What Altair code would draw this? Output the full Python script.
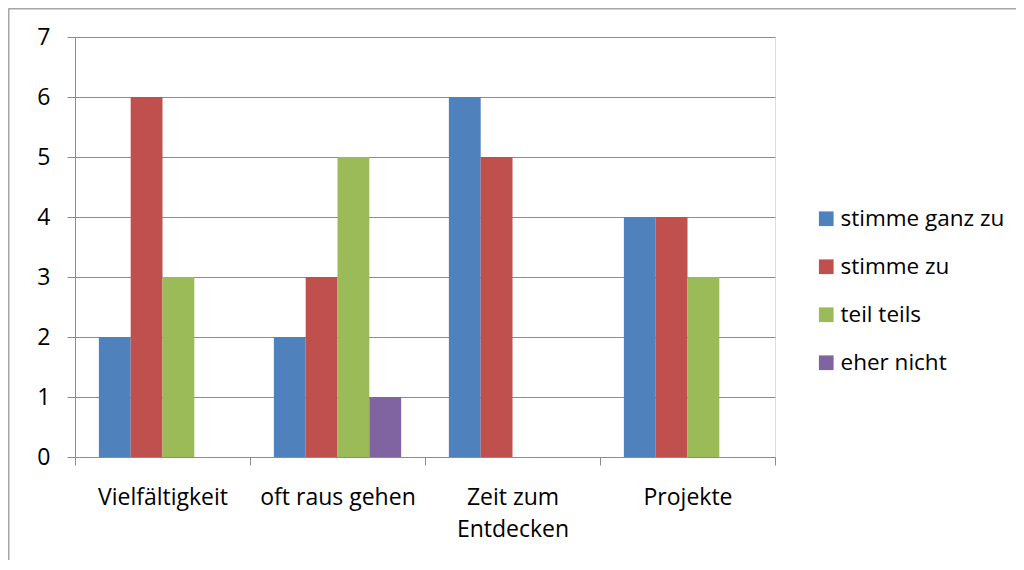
import altair as alt
import pandas as pd

categories = ["Vielfältigkeit", "oft raus gehen", "Zeit zum Entdecken", "Projekte"]
series = ["stimme ganz zu", "stimme zu", "teil teils", "eher nicht"]
stimme_ganz_zu = [2, 2, 6, 4]
stimme_zu = [6, 3, 5, 4]
teil_teils = [3, 5, 0, 3]
eher_nicht = [0, 1, 0, 0]
colors = ["#4F81BD", "#C0504D", "#9BBB59", "#8064A2"]

rows = []
for name, vals in zip(series, [stimme_ganz_zu, stimme_zu, teil_teils, eher_nicht]):
    for c, v in zip(categories, vals):
        rows.append({"Kategorie": c, "Serie": name, "Wert": v})
df = pd.DataFrame(rows)

FONT = "Open Sans"
GRID = "#8c8c8c"

bars = alt.Chart(df).transform_filter("datum.Wert > 0").mark_bar().encode(
    x=alt.X("Kategorie:N", sort=categories,
            scale=alt.Scale(domain=categories, paddingInner=0, paddingOuter=0),
            axis=alt.Axis(title=None, labelAngle=0, tickBand="extent", tickSize=8,
                          tickColor=GRID, domainColor=GRID, labelFontSize=23,
                          labelFont=FONT, labelColor="#000000", labelPadding=21,
                          labelLineHeight=32, labelBaseline="top", labelLimit=0,
                          labelExpr="datum.label == 'Zeit zum Entdecken' ? ['Zeit zum', 'Entdecken'] : datum.label")),
    xOffset=alt.XOffset("Serie:N", sort=series,
                        scale=alt.Scale(domain=series, paddingInner=0, paddingOuter=0.75)),
    y=alt.Y("Wert:Q",
            scale=alt.Scale(domain=[0, 7], nice=False),
            axis=alt.Axis(title=None, values=[0, 1, 2, 3, 4, 5, 6, 7], grid=True,
                          gridColor=GRID, tickColor=GRID, domainColor=GRID, tickSize=8,
                          labelFontSize=23, labelFont=FONT, labelColor="#000000",
                          labelPadding=17)),
    color=alt.Color("Serie:N", sort=series,
                    scale=alt.Scale(domain=series, range=colors),
                    legend=alt.Legend(title=None, orient="none", legendX=740, legendY=170.5,
                                      padding=0, symbolType="square", symbolSize=216,
                                      symbolStrokeWidth=0, labelFontSize=22.5, labelFont=FONT,
                                      labelColor="#000000", labelOffset=3, rowPadding=25,
                                      labelLimit=0)),
)

frame_data = alt.Data(values=[{"a": 1}])
frame_left = alt.Chart(frame_data).mark_rule(color="#a6a6a6", strokeWidth=2).encode(
    x=alt.value(-66.5), y=alt.value(-28.5), y2=alt.value(700))
frame_top = alt.Chart(frame_data).mark_rule(color="#a6a6a6", strokeWidth=2).encode(
    x=alt.value(-66.5), x2=alt.value(1200), y=alt.value(-28.5))

chart = alt.layer(bars, frame_left, frame_top).properties(
    width=700, height=420,
    autosize=alt.AutoSizeParams(type="none"),
    padding={"left": 67, "top": 29, "right": 241, "bottom": 103},
).configure_view(strokeWidth=0).configure(background="#ffffff")

chart.save("out.html", embed_options={"renderer": "svg", "actions": False})
